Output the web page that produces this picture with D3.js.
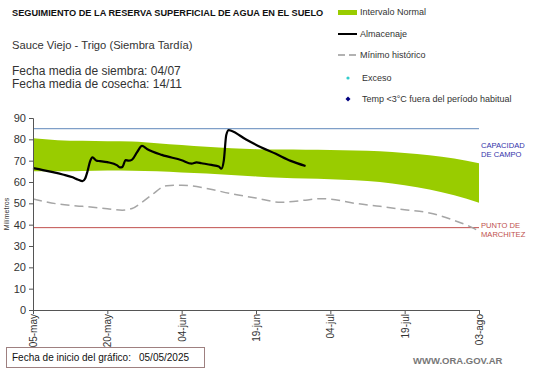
<!DOCTYPE html>
<html>
<head>
<meta charset="utf-8">
<script src="https://cdn.jsdelivr.net/npm/d3@7"></script>
<style>
  body { margin: 0; background: #fff; }
  svg { display: block; font-family: "Liberation Sans", Arial, sans-serif; }
</style>
</head>
<body>
<div id="chart"></div>
<script>
// dias desde el 05-may
var tickDays = [0, 15, 30, 45, 60, 75, 90],
    tickLabels = ["05-may", "20-may", "04-jun", "19-jun", "04-jul", "19-jul", "03-ago"];

var bandDays  = [0, 5, 10, 15, 20, 25, 30, 35, 40, 45, 50, 55, 60, 65, 70, 75, 80, 85, 90],
    bandUpper = [80.5, 79.6, 79.3, 79.1, 79, 78.2, 77.3, 76.5, 75.8, 75.4, 75.2, 75.1, 75, 74.8, 74.4, 73.6, 72.5, 71, 68.8],
    bandLower = [65, 65, 65.2, 65.4, 65.3, 65, 64.5, 64, 63.3, 62.6, 62, 61.6, 61.3, 60.8, 60, 58.5, 56.5, 53.8, 50.3];

var minDays = [0, 5, 10, 15, 18, 20, 22, 24, 27, 30, 35, 40, 45, 50, 55, 58, 60, 65, 70, 75, 80, 85, 88, 90],
    minVals = [52, 49.7, 48.6, 47.5, 46.8, 47.6, 50.5, 54, 58.3, 58.5, 57, 54.5, 52.5, 50.5, 51.5, 52.2, 52, 50, 48.6, 47, 45.5, 42, 39.3, 37];

var almDays = [0, 2, 4, 6, 8, 9, 10, 10.5, 11, 11.5, 12, 12.8, 13.5, 15, 17, 17.5, 18, 18.7, 19.3, 20, 21, 22, 23, 26, 30, 32, 33, 34, 36, 37.5, 38, 38.5, 39, 39.5, 40, 43, 46, 49, 52, 55],
    almVals = [66.5, 65.6, 64.6, 63.5, 62.2, 61.2, 60.4, 61.5, 65, 69.5, 71.5, 70, 69.8, 69.3, 67.8, 66.9, 67, 70.3, 70, 70.5, 74, 76.9, 75.5, 72.7, 70.2, 68.6, 69.2, 68.8, 68, 67.3, 66.2, 70, 82, 84.3, 84, 79.9, 76.3, 73.2, 69.9, 67.5];

var capacidad = 85,
    marchitez = 38.6;

var W = 541, H = 368;
var x = d3.scaleLinear().domain([0, 90]).range([33, 479]);
var y = d3.scaleLinear().domain([0, 90]).range([310, 118]);

var svg = d3.select("#chart").append("svg")
    .attr("width", W)
    .attr("height", H);

// titulos
svg.append("text").attr("x", 12).attr("y", 16)
    .attr("font-size", 9.2).attr("font-weight", "bold").attr("fill", "#111")
    .text("SEGUIMIENTO DE LA RESERVA SUPERFICIAL DE AGUA EN EL SUELO");
svg.append("text").attr("x", 12).attr("y", 49)
    .attr("font-size", 11.2).attr("fill", "#333")
    .text("Sauce Viejo - Trigo (Siembra Tardía)");
svg.append("text").attr("x", 12).attr("y", 75)
    .attr("font-size", 12).attr("fill", "#333")
    .text("Fecha media de siembra: 04/07");
svg.append("text").attr("x", 12).attr("y", 88)
    .attr("font-size", 12).attr("fill", "#333")
    .text("Fecha media de cosecha: 14/11");

// leyenda
var lg = svg.append("g").attr("font-size", 9).attr("fill", "#333");
lg.append("rect").attr("x", 338).attr("y", 10).attr("width", 19).attr("height", 5).attr("fill", "#99cc00");
lg.append("text").attr("x", 360).attr("y", 15).text("Intervalo Normal");
lg.append("line").attr("x1", 338).attr("x2", 357).attr("y1", 34).attr("y2", 34)
    .attr("stroke", "#000").attr("stroke-width", 2);
lg.append("text").attr("x", 360).attr("y", 37).text("Almacenaje");
lg.append("line").attr("x1", 338).attr("x2", 357).attr("y1", 55).attr("y2", 55)
    .attr("stroke", "#999").attr("stroke-width", 1.5).attr("stroke-dasharray", "7,4");
lg.append("text").attr("x", 360).attr("y", 58).text("Mínimo histórico");
lg.append("circle").attr("cx", 348).attr("cy", 78).attr("r", 1.6).attr("fill", "#33cccc");
lg.append("text").attr("x", 362).attr("y", 81).text("Exceso");
lg.append("path").attr("d", "M348,96.5 L350.5,99 L348,101.5 L345.5,99 Z").attr("fill", "#000080");
lg.append("text").attr("x", 362).attr("y", 102).text("Temp <3°C fuera del período habitual");

// banda normal
var band = bandDays.map(function(d, i) { return {d: d, hi: bandUpper[i], lo: bandLower[i]}; });
svg.append("path")
    .datum(band)
    .attr("fill", "#99cc00")
    .attr("d", d3.area()
        .x(function(p) { return x(p.d); })
        .y0(function(p) { return y(p.lo); })
        .y1(function(p) { return y(p.hi); })
        .curve(d3.curveMonotoneX));

// lineas de referencia
svg.append("line").attr("x1", x(0)).attr("x2", x(90))
    .attr("y1", y(capacidad)).attr("y2", y(capacidad))
    .attr("stroke", "#7f9fc8").attr("stroke-width", 1.2);
svg.append("line").attr("x1", x(0)).attr("x2", x(90))
    .attr("y1", y(marchitez)).attr("y2", y(marchitez))
    .attr("stroke", "#c0504d").attr("stroke-width", 1);

// minimo historico
var line = d3.line()
    .x(function(p) { return x(p[0]); })
    .y(function(p) { return y(p[1]); })
    .curve(d3.curveMonotoneX);

svg.append("path")
    .datum(d3.zip(minDays, minVals))
    .attr("fill", "none")
    .attr("stroke", "#a6a6a6")
    .attr("stroke-width", 1.5)
    .attr("stroke-dasharray", "9,5")
    .attr("d", line);

// almacenaje
svg.append("path")
    .datum(d3.zip(almDays, almVals))
    .attr("fill", "none")
    .attr("stroke", "#000")
    .attr("stroke-width", 2.2)
    .attr("stroke-linejoin", "round")
    .attr("d", line);

// etiquetas de lineas
var lab = svg.append("g").attr("font-size", 7.6);
lab.append("text").attr("x", 481).attr("y", 148).attr("fill", "#3333aa").text("CAPACIDAD");
lab.append("text").attr("x", 481).attr("y", 157).attr("fill", "#3333aa").text("DE  CAMPO");
lab.append("text").attr("x", 481).attr("y", 227.5).attr("fill", "#c0504d").text("PUNTO   DE");
lab.append("text").attr("x", 481).attr("y", 236.5).attr("fill", "#c0504d").text("MARCHITEZ");

// recuadro fecha de inicio
svg.append("rect").attr("x", 6.5).attr("y", 347.5).attr("width", 198).attr("height", 20)
    .attr("fill", "none").attr("stroke", "#9e8080");
svg.append("text").attr("x", 12).attr("y", 361)
    .attr("font-size", 10).attr("fill", "#111")
    .text("Fecha de inicio del gráfico:");
svg.append("text").attr("x", 139).attr("y", 361)
    .attr("font-size", 10).attr("fill", "#111")
    .text("05/05/2025");

// ejes
var yAxis = svg.append("g")
    .attr("transform", "translate(" + x(0) + ",0)")
    .call(d3.axisLeft(y).tickValues(d3.range(0, 91, 10)).tickSize(4).tickPadding(3));
yAxis.selectAll("text").attr("font-size", 11).attr("fill", "#333");

var xAxis = svg.append("g")
    .attr("transform", "translate(0," + y(0) + ")")
    .call(d3.axisBottom(x).tickValues(tickDays).tickSize(4)
        .tickFormat(function(d, i) { return tickLabels[i]; }));
xAxis.selectAll("text")
    .attr("font-size", 10).attr("fill", "#333")
    .attr("text-anchor", "end")
    .attr("dy", "0.35em")
    .attr("transform", "rotate(-90)")
    .attr("x", -4).attr("y", 0);

svg.selectAll(".domain").attr("stroke", "#555");
svg.selectAll(".tick line").attr("stroke", "#555");

svg.append("text")
    .attr("transform", "translate(9," + y(45) + ") rotate(-90)")
    .attr("text-anchor", "middle")
    .attr("font-size", 7).attr("fill", "#333")
    .text("Milímetros");

svg.append("text").attr("x", 413).attr("y", 364)
    .attr("font-size", 9.5).attr("font-weight", "bold").attr("fill", "#777")
    .text("WWW.ORA.GOV.AR");
</script>
</body>
</html>
